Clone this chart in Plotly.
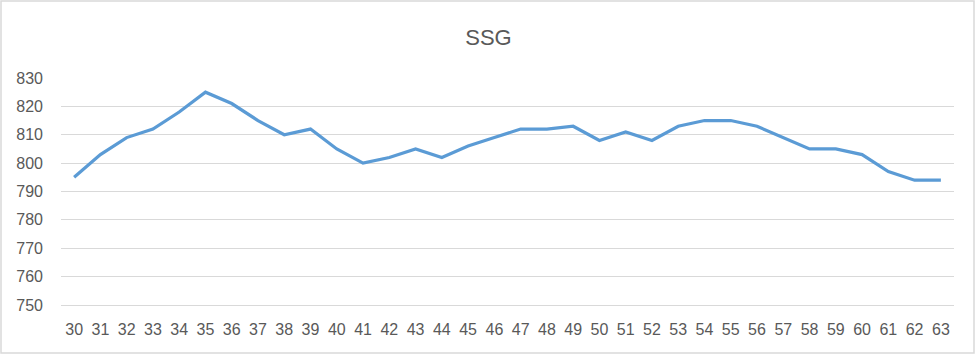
import plotly.graph_objects as go

categories = [str(c) for c in range(30, 64)]
ssg = [795, 803, 809, 812, 818, 825, 821, 815, 810, 812,
       805, 800, 802, 805, 802, 806, 809, 812, 812, 813,
       808, 811, 808, 813, 815, 815, 813, 809, 805, 805,
       803, 797, 794, 794]
y_ticks = [750, 760, 770, 780, 790, 800, 810, 820, 830]

W, H = 977, 355
ml, mr, mt, mb = 61, 23, 78, 50
pw, ph = W - ml - mr, H - mt - mb

fig = go.Figure()
fig.add_trace(go.Scatter(x=categories, y=ssg, mode="lines",
                         line=dict(color="#5b9bd5", width=3.2),
                         showlegend=False, hoverinfo="x+y"))

font = "Liberation Sans, Arial, sans-serif"
fig.update_layout(
    width=W, height=H,
    margin=dict(l=ml, r=mr, t=mt, b=mb),
    paper_bgcolor="white", plot_bgcolor="white",
    title=dict(text="SSG", x=0.5, xanchor="center", y=1 - 37 / H, yanchor="middle",
               font=dict(family=font, size=22, color="#595959")),
    xaxis=dict(type="category", showgrid=False, showline=True, linecolor="#d9d9d9",
               linewidth=1, zeroline=False,
               ticks="", ticklabelstandoff=10,
               tickfont=dict(family=font, size=16, color="#595959"),
               range=[-0.5, len(categories) - 0.5]),
    yaxis=dict(range=[750, 830], tickvals=y_ticks, showgrid=True,
               gridcolor="#d9d9d9", gridwidth=1, zeroline=False, showline=False,
               ticks="", ticklabelstandoff=17,
               tickfont=dict(family=font, size=16, color="#595959")),
    shapes=[dict(type="rect", xref="paper", yref="paper",
                 x0=(1 - ml) / pw, x1=(W - 3 - ml) / pw,
                 y0=-(mb - 2) / ph, y1=1 + (mt - 1) / ph,
                 line=dict(color="#d9d9d9", width=1.5), fillcolor="rgba(0,0,0,0)",
                 layer="below")],
)

fig.write_html("out.html")
